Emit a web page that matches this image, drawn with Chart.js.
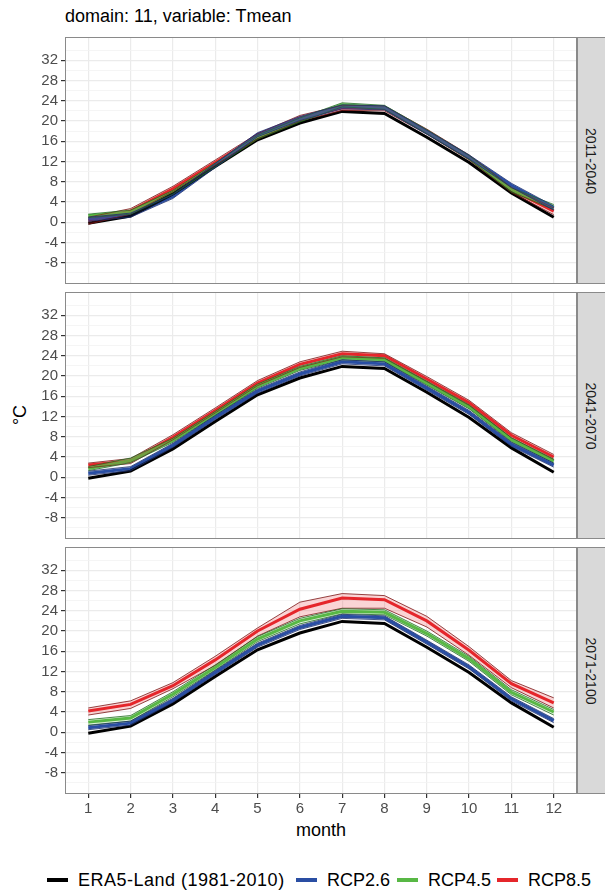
<!DOCTYPE html>
<html>
<head>
<meta charset="utf-8">
<script src="https://cdn.jsdelivr.net/npm/chart.js@4.4.1/dist/chart.umd.min.js"></script>
<style>
  html, body { margin: 0; padding: 0; background: #fff; }
  body {
    width: 605px; height: 890px; position: relative; overflow: hidden;
    font-family: 'Liberation Sans', Arial, sans-serif; color: #000;
  }
  canvas { position: absolute; left: 0; }
  .title { position: absolute; left: 65px; top: 5px; font-size: 18px; line-height: 22px; white-space: nowrap; }
  .ylab { position: absolute; left: 20px; top: 415px; font-size: 18px; white-space: nowrap;
          transform: translate(-50%, -50%) rotate(-90deg); }
  .xlab { position: absolute; left: 321px; top: 830px; font-size: 18px; white-space: nowrap;
          transform: translate(-50%, -50%); }
  .strip { position: absolute; left: 577px; width: 34px; background: #d9d9d9;
           border: 1px solid #8a8a8a; box-sizing: border-box; }
  .strip span { position: absolute; left: 13px; top: 50%; font-size: 14px; color: #1a1a1a; white-space: nowrap;
                transform: translate(-50%, -50%) rotate(90deg); }
  .legend-item { position: absolute; top: 869px; height: 22px; display: flex; align-items: center;
                 font-size: 18px; white-space: nowrap; }
  .legend-item .key { width: 21px; height: 4px; margin-right: 10px; }
  .legend-item.wide span:last-child { letter-spacing: 0.5px; }
</style>
</head>
<body>
<div class="title">domain: 11, variable: Tmean</div>
<div class="ylab">°C</div>
<div class="xlab">month</div>

<script>
// months on the x axis
const months = [1, 2, 3, 4, 5, 6, 7, 8, 9, 10, 11, 12];
const periods = ['2011-2040', '2041-2070', '2071-2100'];

// y axis: labelled breaks and the extra (minor) grid lines between them
const yTickLabels = [-8, -4, 0, 4, 8, 12, 16, 20, 24, 28, 32];
const yMinorGrid = [-10, -6, -2, 2, 6, 10, 14, 18, 22, 26, 30, 34];

// reference climatology, same in every panel
const era5 = [-0.2, 1.2, 5.6, 11.0, 16.3, 19.6, 21.9, 21.5, 16.8, 11.8, 5.8, 1.0];

// scenario means and model spread (min / max), one row per period
const rcp26Mean = [
  [0.6, 1.4, 5.1, 11.2, 17.3, 20.5, 22.8, 22.6, 17.8, 12.9, 7.3, 2.8],
  [0.8, 1.7, 6.3, 11.8, 17.0, 20.4, 22.8, 22.4, 17.6, 12.8, 6.5, 2.4],
  [0.9, 1.8, 6.3, 11.8, 17.2, 20.7, 22.9, 22.6, 17.8, 12.9, 6.6, 2.3]
];
const rcp26Lo = [
  [0.2, 1.0, 4.7, 10.8, 16.9, 20.1, 22.4, 22.2, 17.4, 12.5, 6.9, 2.4],
  [0.4, 1.3, 5.9, 11.4, 16.6, 20.0, 22.4, 22.0, 17.2, 12.4, 6.1, 2.0],
  [0.5, 1.4, 5.9, 11.4, 16.8, 20.3, 22.5, 22.2, 17.4, 12.5, 6.2, 1.9]
];
const rcp26Hi = [
  [1.0, 1.8, 5.5, 11.6, 17.7, 20.9, 23.2, 23.0, 18.2, 13.3, 7.7, 3.2],
  [1.2, 2.1, 6.7, 12.2, 17.4, 20.8, 23.2, 22.8, 18.0, 13.2, 6.9, 2.8],
  [1.3, 2.2, 6.7, 12.2, 17.6, 21.1, 23.3, 23.0, 18.2, 13.3, 7.0, 2.7]
];
const rcp45Mean = [
  [1.3, 2.0, 5.9, 11.3, 16.8, 20.2, 23.2, 22.7, 17.9, 12.8, 6.4, 3.0],
  [1.7, 3.3, 7.3, 12.6, 18.0, 21.5, 23.6, 23.2, 18.6, 13.9, 7.4, 3.2],
  [2.0, 2.8, 7.5, 12.8, 18.4, 22.0, 23.9, 23.7, 19.5, 14.5, 7.9, 4.0]
];
const rcp45Lo = [
  [0.9, 1.6, 5.5, 10.9, 16.4, 19.8, 22.8, 22.3, 17.5, 12.4, 6.0, 2.5],
  [1.3, 2.9, 6.9, 12.2, 17.6, 21.1, 23.2, 22.8, 18.2, 13.5, 7.0, 2.8],
  [1.4, 2.2, 7.0, 12.3, 17.9, 21.4, 23.4, 23.2, 19.0, 14.0, 7.4, 3.4]
];
const rcp45Hi = [
  [1.6, 2.4, 6.3, 11.7, 17.2, 20.6, 23.6, 23.1, 18.3, 13.2, 6.8, 3.5],
  [2.1, 3.8, 7.7, 13.0, 18.4, 21.9, 24.0, 23.6, 19.0, 14.3, 7.8, 3.6],
  [2.5, 3.3, 8.0, 13.3, 18.9, 22.5, 24.4, 24.2, 20.0, 15.0, 8.4, 4.5]
];
const rcp85Mean = [
  [0.4, 2.2, 6.6, 11.8, 17.0, 20.6, 22.6, 22.5, 17.9, 12.8, 6.4, 2.2],
  [2.4, 3.2, 7.9, 13.2, 18.6, 22.3, 24.4, 24.0, 19.4, 14.7, 8.3, 4.0],
  [4.2, 5.5, 9.2, 14.3, 20.0, 24.3, 26.5, 26.2, 22.0, 16.2, 9.6, 5.8]
];
const rcp85Lo = [
  [-0.4, 1.6, 6.1, 11.3, 16.4, 20.0, 22.1, 22.0, 17.4, 12.3, 5.9, 1.5],
  [1.9, 2.7, 7.4, 12.7, 18.1, 21.7, 23.8, 23.5, 18.9, 14.2, 7.8, 3.5],
  [3.4, 4.7, 8.6, 13.2, 19.0, 22.8, 24.5, 24.5, 20.8, 15.2, 8.8, 4.8]
];
const rcp85Hi = [
  [1.0, 2.7, 7.1, 12.3, 17.5, 21.1, 23.1, 23.0, 18.4, 13.3, 6.9, 2.8],
  [2.8, 3.7, 8.4, 13.7, 19.1, 22.8, 24.9, 24.4, 19.9, 15.2, 8.8, 4.5],
  [4.8, 6.2, 9.8, 15.0, 20.6, 25.7, 27.4, 27.0, 22.9, 16.9, 10.2, 6.8]
];

const legendNames = ['ERA5-Land (1981-2010)', 'RCP2.6', 'RCP4.5', 'RCP8.5'];
const lineColors = ['#000000', '#2a4ea3', '#58b845', '#e5262b'];
const edgeColors = ['#000000', '#1c2f6e', '#1f6b1f', '#7a1414'];
const ribbonFill = ['', 'rgba(42,78,163,0.2)', 'rgba(88,184,69,0.2)', 'rgba(229,38,43,0.2)'];

// layout
const panelTops = [37, 292, 547];
const panelH = 247;
const plotLeft = 65, plotRight = 577;
const pad = 2;
const yMin = -12.2, yMax = 36.6;
const xMin = 0.45, xMax = 12.55;
const legendLeft = [47, 296, 397, 497];

Chart.defaults.font.family = "'Liberation Sans', Arial, sans-serif";

const pts = arr => months.map((m, i) => ({ x: m, y: arr[i] }));

// grey frame around each plotting area
const framePlugin = {
  id: 'frame',
  afterDatasetsDraw(chart) {
    const a = chart.chartArea, ctx = chart.ctx;
    ctx.save();
    ctx.strokeStyle = '#8a8a8a';
    ctx.lineWidth = 1;
    ctx.strokeRect(a.left + 0.5, a.top + 0.5, a.right - a.left - 1, a.bottom - a.top - 1);
    ctx.restore();
  }
};

function ribbon(lo, hi, k) {
  return [
    { data: pts(lo), borderColor: edgeColors[k], borderWidth: 0.8, fill: false },
    { data: pts(hi), borderColor: edgeColors[k], borderWidth: 0.8, fill: '-1', backgroundColor: ribbonFill[k] }
  ];
}

function meanLine(arr, k) {
  return { data: pts(arr), borderColor: lineColors[k], borderWidth: 3, fill: false };
}

// keep the plotting area fixed: no extra room for half tick labels
function noScalePadding(s) {
  s.paddingTop = 0;
  s.paddingBottom = 0;
  s.paddingLeft = 0;
  s.paddingRight = 0;
}

function makePanel(p) {
  const isBottom = p === periods.length - 1;
  const axisH = isBottom ? 26 : 0;

  const canvas = document.createElement('canvas');
  canvas.width = plotRight + 2;
  canvas.height = panelH + pad * 2 + axisH;
  canvas.style.top = (panelTops[p] - pad) + 'px';
  document.body.appendChild(canvas);

  const strip = document.createElement('div');
  strip.className = 'strip';
  strip.style.top = panelTops[p] + 'px';
  strip.style.height = panelH + 'px';
  strip.innerHTML = '<span>' + periods[p] + '</span>';
  document.body.appendChild(strip);

  const datasets = [
    ...ribbon(rcp26Lo[p], rcp26Hi[p], 1),
    ...ribbon(rcp45Lo[p], rcp45Hi[p], 2),
    ...ribbon(rcp85Lo[p], rcp85Hi[p], 3),
    meanLine(era5, 0),
    meanLine(rcp26Mean[p], 1),
    meanLine(rcp45Mean[p], 2),
    meanLine(rcp85Mean[p], 3)
  ];

  const isMajor = v => yTickLabels.includes(v);

  new Chart(canvas.getContext('2d'), {
    type: 'line',
    data: { datasets },
    options: {
      responsive: false,
      animation: false,
      devicePixelRatio: 1,
      elements: { point: { radius: 0 }, line: { tension: 0 } },
      layout: { autoPadding: false, padding: { top: pad, right: 2, bottom: pad, left: 0 } },
      plugins: { legend: { display: false }, tooltip: { enabled: false } },
      scales: {
        x: {
          type: 'linear',
          min: xMin,
          max: xMax,
          afterBuildTicks: s => { s.ticks = months.map(v => ({ value: v })); },
          afterFit: s => { s.height = axisH; noScalePadding(s); },
          border: { display: false },
          grid: { color: '#ebebeb', lineWidth: 1.2, drawTicks: isBottom, tickLength: 4, tickColor: '#333333' },
          ticks: {
            display: isBottom, autoSkip: false, maxRotation: 0, padding: 2,
            color: '#4d4d4d', font: { size: 15 }
          }
        },
        y: {
          type: 'linear',
          min: yMin,
          max: yMax,
          afterBuildTicks: s => {
            s.ticks = [...yMinorGrid, ...yTickLabels].sort((a, b) => a - b).map(v => ({ value: v }));
          },
          afterFit: s => { s.width = plotLeft; noScalePadding(s); },
          border: { display: false },
          grid: {
            color: c => isMajor(c.tick.value) ? '#ebebeb' : '#f2f2f2',
            lineWidth: c => isMajor(c.tick.value) ? 1.2 : 0.8,
            tickLength: 4,
            tickColor: c => isMajor(c.tick.value) ? '#333333' : 'rgba(0,0,0,0)'
          },
          ticks: {
            autoSkip: false, padding: 3, color: '#4d4d4d', font: { size: 15 },
            callback: v => isMajor(v) ? String(v) : ''
          }
        }
      }
    },
    plugins: [framePlugin]
  });
}

periods.forEach((_, p) => makePanel(p));

// legend row under the panels
legendNames.forEach((name, k) => {
  const item = document.createElement('div');
  item.className = 'legend-item' + (k === 0 ? ' wide' : '');
  item.style.left = legendLeft[k] + 'px';
  const key = document.createElement('span');
  key.className = 'key';
  key.style.background = lineColors[k];
  const lab = document.createElement('span');
  lab.textContent = name;
  item.appendChild(key);
  item.appendChild(lab);
  document.body.appendChild(item);
});
</script>
</body>
</html>
